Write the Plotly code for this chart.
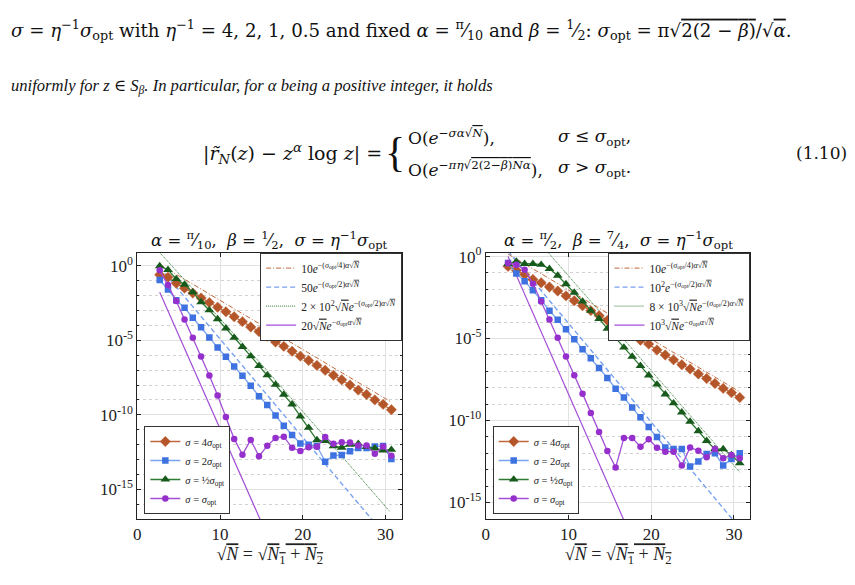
import numpy as np
import plotly.graph_objects as go

# ---------------- data (exponents of 10) ----------------
sqrtN = [2.7, 3.7, 4.7, 5.7, 6.7, 7.7, 8.7, 9.7, 10.7, 11.7, 12.7, 13.7, 14.7, 15.7,
         16.7, 17.7, 18.7, 19.7, 20.7, 21.7, 22.7, 23.7, 24.7, 25.7, 26.7, 27.7,
         28.7, 29.7, 30.7]

# left panel: alpha = pi/10, beta = 1/2
L_s4 = [-0.59, -0.76, -1.16, -1.49, -1.82, -2.15, -2.46, -2.77, -3.08, -3.41, -3.74,
        -4.10, -4.41, -4.72, -5.11, -5.40, -5.73, -6.06, -6.35, -6.68, -7.01, -7.34,
        -7.65, -8.00, -8.34, -8.64, -9.00, -9.30, -9.66]
L_s2 = [-0.94, -1.58, -2.31, -2.81, -3.48, -4.12, -4.80, -5.48, -6.10, -6.75, -7.38,
        -8.05, -8.75, -9.35, -10.05, -10.74, -11.36, -11.93, -12.02, -12.10, -13.15,
        -12.74, -12.70, -12.46, -12.24, -12.24, -12.13, -12.10, -12.98]
L_shalf = [0.00, -0.26, -0.87, -1.25, -1.76, -2.42, -2.97, -3.57, -4.19, -4.82, -5.43,
           -6.06, -6.72, -7.34, -7.98, -8.64, -9.30, -10.10, -10.87, -11.70, -11.75,
           -12.10, -12.20, -12.00, -11.95, -12.15, -12.25, -12.40, -12.35]
L_s1 = [-0.28, -1.27, -2.35, -3.59, -4.83, -6.08, -7.36, -8.71, -10.15, -11.62, -12.68,
        -11.69, -12.79, -12.09, -11.56, -11.47, -12.22, -12.44, -12.19, -12.15, -11.50,
        -11.95, -11.85, -11.87, -12.07, -12.07, -12.62, -12.13, -12.75]

# left reference lines (x, exponent)
L_ref4_x, L_ref4_y = [2.7, 30.7], [0.10, -9.15]
L_ref2_x, L_ref2_y = [2.7, 30.7], [-0.09, -18.60]
L_refh_x, L_refh_y = [2.7, 15.0, 26.3, 30.5], [0.90, -6.60, -13.80, -16.50]
L_ref1_x, L_ref1_y = [2.7, 16.0], [-1.76, -18.50]

# right panel: alpha = pi/2, beta = 7/4
R_s4 = [-0.60, -0.84, -1.10, -1.40, -1.60, -1.86, -2.10, -2.40, -2.70, -3.00, -3.30,
        -3.60, -3.90, -4.24, -4.50, -4.80, -5.10, -5.34, -5.70, -6.00, -6.30, -6.60,
        -6.86, -7.16, -7.44, -7.74, -8.04, -8.30, -8.60]
R_s2 = [-0.40, -1.04, -1.50, -2.06, -2.66, -3.30, -3.86, -4.43, -5.04, -5.65, -6.20,
        -6.80, -7.40, -8.06, -8.60, -9.20, -9.80, -10.40, -11.00, -11.64, -11.74,
        -11.74, -12.80, -12.50, -12.04, -12.00, -12.74, -12.34, -12.00]
R_shalf = [-0.44, -0.30, -0.44, -0.44, -0.50, -0.75, -1.16, -1.68, -2.20, -2.74, -3.30,
           -3.80, -4.40, -5.00, -5.54, -6.10, -6.66, -7.24, -7.80, -8.40, -8.94, -9.50,
           -10.06, -10.64, -11.24, -11.74, -11.74, -12.10, -12.60]
R_s1 = [-0.40, -0.50, -0.80, -1.66, -2.74, -3.84, -4.95, -6.10, -7.24, -8.36, -9.54,
        -10.70, -11.86, -12.86, -11.06, -11.06, -11.60, -11.14, -11.66, -11.90, -11.90,
        -12.74, -11.64, -11.84, -12.24, -11.74, -12.30, -12.10, -12.30]

R_ref4_x, R_ref4_y = [2.7, 30.7], [0.15, -8.25]
R_ref2_x, R_ref2_y = [2.7, 30.7], [0.33, -16.55]
R_refh_x, R_refh_y = [7.0, 30.7], [0.56, -13.15]
R_ref1_x, R_ref1_y = [2.7, 17.5], [0.00, -17.00]

xticks = [0, 10, 20, 30]
ytick_exp = [0, -5, -10, -15]
ytick_text = ["10<sup>0</sup>", "10<sup>-5</sup>", "10<sup>-10</sup>", "10<sup>-15</sup>"]

# ---------------- style ----------------
W, H = 855, 585
BROWN, BROWN_L = "#B4562A", "#C0683C"
BLUE, BLUE_L = "#3D72E0", "#79A3F0"
GREEN, GREEN_L = "#175A1B", "#2F7A33"
PURPLE, PURPLE_L = "#9630CC", "#A34ED6"
SERIF = "'Liberation Serif', 'Times New Roman', 'DejaVu Serif', serif"
PAGE = "'DejaVu Serif', serif"

def p(v):
    return [10.0 ** e for e in v]

def ol(s):
    return "<span style='text-decoration:overline'>" + s + "</span>"

fig = go.Figure()

def add_panel(xa, ya, s4, s2, sh, s1, refs, ref_names, lg_ref, lg_mk):
    (r4x, r4y), (r2x, r2y), (rhx, rhy), (r1x, r1y) = refs
    fig.add_trace(go.Scatter(x=r4x, y=p(r4y), mode="lines", xaxis=xa, yaxis=ya,
                             line=dict(color=BROWN_L, width=1, dash="5px,2px,1px,2px"),
                             name=ref_names[0], legend=lg_ref))
    fig.add_trace(go.Scatter(x=r2x, y=p(r2y), mode="lines", xaxis=xa, yaxis=ya,
                             line=dict(color=BLUE_L, width=1.4, dash="5px,3px"),
                             name=ref_names[1], legend=lg_ref))
    fig.add_trace(go.Scatter(x=rhx, y=p(rhy), mode="lines", xaxis=xa, yaxis=ya,
                             line=dict(color=GREEN_L, width=1, dash="1px,1px"),
                             name=ref_names[2], legend=lg_ref))
    fig.add_trace(go.Scatter(x=r1x, y=p(r1y), mode="lines", xaxis=xa, yaxis=ya,
                             line=dict(color=PURPLE_L, width=1.2),
                             name=ref_names[3], legend=lg_ref))
    fig.add_trace(go.Scatter(x=sqrtN, y=p(s4), mode="lines+markers", xaxis=xa, yaxis=ya,
                             line=dict(color=BROWN_L, width=1.3),
                             marker=dict(symbol="diamond", size=8, color=BROWN,
                                         line=dict(color=BROWN_L, width=0.5)),
                             name="<i>σ</i> = 4<i>σ</i><sub>opt</sub>", legend=lg_mk))
    fig.add_trace(go.Scatter(x=sqrtN, y=p(s2), mode="lines+markers", xaxis=xa, yaxis=ya,
                             line=dict(color=BLUE_L, width=1.3),
                             marker=dict(symbol="square", size=6.5, color=BLUE),
                             name="<i>σ</i> = 2<i>σ</i><sub>opt</sub>", legend=lg_mk))
    fig.add_trace(go.Scatter(x=sqrtN, y=p(sh), mode="lines+markers", xaxis=xa, yaxis=ya,
                             line=dict(color=GREEN_L, width=1.3),
                             marker=dict(symbol="triangle-up", size=8.5, color=GREEN),
                             name="<i>σ</i> = ½<i>σ</i><sub>opt</sub>", legend=lg_mk))
    fig.add_trace(go.Scatter(x=sqrtN, y=p(s1), mode="lines+markers", xaxis=xa, yaxis=ya,
                             line=dict(color=PURPLE_L, width=1.3),
                             marker=dict(symbol="circle", size=6.5, color=PURPLE),
                             name="<i>σ</i> = <i>σ</i><sub>opt</sub>", legend=lg_mk))

sig = "<i>σ</i><sub>opt</sub>"
L_names = ["10<i>e</i><sup>−(" + sig + "/4)<i>α</i>√" + ol("<i>N</i>") + "</sup>",
           "50<i>e</i><sup>−(" + sig + "/2)<i>α</i>√" + ol("<i>N</i>") + "</sup>",
           "2 × 10<sup>2</sup>√" + ol("<i>N</i>") + "<i>e</i><sup>−(" + sig + "/2)<i>α</i>√" + ol("<i>N</i>") + "</sup>",
           "20√" + ol("<i>N</i>") + "<i>e</i><sup>−" + sig + "<i>α</i>√" + ol("<i>N</i>") + "</sup>"]
R_names = ["10<i>e</i><sup>−(" + sig + "/4)<i>α</i>√" + ol("<i>N</i>") + "</sup>",
           "10<sup>2</sup><i>e</i><sup>−(" + sig + "/2)<i>α</i>√" + ol("<i>N</i>") + "</sup>",
           "8 × 10<sup>3</sup>√" + ol("<i>N</i>") + "<i>e</i><sup>−(" + sig + "/2)<i>α</i>√" + ol("<i>N</i>") + "</sup>",
           "10<sup>3</sup>√" + ol("<i>N</i>") + "<i>e</i><sup>−" + sig + "<i>α</i>√" + ol("<i>N</i>") + "</sup>"]

add_panel("x", "y", L_s4, L_s2, L_shalf, L_s1,
          [(L_ref4_x, L_ref4_y), (L_ref2_x, L_ref2_y), (L_refh_x, L_refh_y), (L_ref1_x, L_ref1_y)],
          L_names, "legend", "legend2")
add_panel("x2", "y2", R_s4, R_s2, R_shalf, R_s1,
          [(R_ref4_x, R_ref4_y), (R_ref2_x, R_ref2_y), (R_refh_x, R_refh_y), (R_ref1_x, R_ref1_y)],
          R_names, "legend3", "legend4")

def xaxis(dom, anchor):
    return dict(domain=dom, anchor=anchor, range=[0, 32], tickvals=xticks,
                showgrid=True, gridcolor="#e2e2e2", gridwidth=1, zeroline=False,
                showline=True, linecolor="#222", linewidth=1, mirror="ticks",
                ticks="inside", ticklen=4, tickcolor="#222",
                tickfont=dict(family=SERIF, size=17, color="#222"),
                title=dict(text="√" + ol("<i>N</i>") + " = √" + ol("<i>N</i><sub>1</sub> + <i>N</i><sub>2</sub>"),
                           font=dict(family=SERIF, size=18, color="#222"), standoff=3))

def yaxis(dom, anchor, rng):
    return dict(domain=dom, anchor=anchor, type="log", range=rng,
                tickvals=p(ytick_exp), ticktext=ytick_text,
                showgrid=True, gridcolor="#e2e2e2", gridwidth=1, zeroline=False,
                showline=True, linecolor="#222", linewidth=1, mirror="ticks",
                ticks="inside", ticklen=4, tickcolor="#222",
                tickfont=dict(family=SERIF, size=17, color="#222"),
                minor=dict(tickvals=p(list(range(-17, 1))), showgrid=True,
                           griddash="dot", gridcolor="#d2d2d2", ticks="inside",
                           ticklen=2, tickcolor="#222"))

ydom = [1 - 518 / H, 1 - 248 / H]
lg_common = dict(bgcolor="white", bordercolor="#333", borderwidth=1,
                 itemwidth=30, tracegroupgap=0)
lg_ref_font = dict(family=SERIF, size=11.5, color="#222")
lg_mk_font = dict(family=SERIF, size=10.5, color="#222")

fig.update_layout(
    width=W, height=H, margin=dict(l=0, r=0, t=0, b=0),
    paper_bgcolor="white", plot_bgcolor="white",
    xaxis=xaxis([134 / W, 400 / W], "y"),
    yaxis=yaxis(ydom, "x", [-17, 0.9]),
    xaxis2=xaxis([484 / W, 750 / W], "y2"),
    yaxis2=yaxis(ydom, "x2", [-16, 0.24]),
    legend=dict(x=400 / W, y=1 - 248 / H, xanchor="right", yanchor="top",
                font=lg_ref_font, **lg_common),
    legend2=dict(x=141 / W, y=1 - 513 / H, xanchor="left", yanchor="bottom",
                 font=lg_mk_font, **lg_common),
    legend3=dict(x=750 / W, y=1 - 248 / H, xanchor="right", yanchor="top",
                 font=lg_ref_font, **lg_common),
    legend4=dict(x=491 / W, y=1 - 513 / H, xanchor="left", yanchor="bottom",
                 font=lg_mk_font, **lg_common),
    showlegend=True,
)

def ann(text, px, py, size, xanchor="left", yanchor="middle", color="#111", family=SERIF):
    fig.add_annotation(text=text, x=px / W, y=1 - py / H, xref="paper", yref="paper",
                       xanchor=xanchor, yanchor=yanchor, showarrow=False,
                       font=dict(family=family, size=size, color=color))

# subplot titles
ann("<i>α</i> = <sup>π</sup>⁄<sub>10</sub>,  <i>β</i> = <sup>1</sup>⁄<sub>2</sub>,  <i>σ</i> = <i>η</i><sup>−1</sup><i>σ</i><sub>opt</sub>",
    267, 235, 16.5, xanchor="center", family=PAGE)
ann("<i>α</i> = <sup>π</sup>⁄<sub>2</sub>,  <i>β</i> = <sup>7</sup>⁄<sub>4</sub>,  <i>σ</i> = <i>η</i><sup>−1</sup><i>σ</i><sub>opt</sub>",
    617, 235, 16.5, xanchor="center", family=PAGE)

# page text
ann("<i>σ</i> = <i>η</i><sup>−1</sup><i>σ</i><sub>opt</sub> with <i>η</i><sup>−1</sup> = 4, 2, 1, 0.5 and fixed <i>α</i> = <sup>π</sup>⁄<sub>10</sub> and <i>β</i> = <sup>1</sup>⁄<sub>2</sub>: <i>σ</i><sub>opt</sub> = π√"
    + ol("2(2 − <i>β</i>)") + "/√" + ol("<i>α</i>") + ".", 5, 22, 18.2, family=PAGE)
ann("<i>uniformly for z ∈ S<sub>β</sub>. In particular, for α being a positive integer, it holds</i>",
    5, 80, 16.6, family=SERIF)
ann("|<i>r̃</i><sub><i>N</i></sub>(<i>z</i>) − <i>z</i><sup><i>α</i></sup> log <i>z</i>| =", 382, 148, 19,
    xanchor="right", family=PAGE)
ann("{", 381, 146, 42, xanchor="left")
ann("O(<i>e</i><sup>−<i>σα</i>√" + ol("<i>N</i>") + "</sup>),", 404, 131, 17, family=PAGE)
ann("O(<i>e</i><sup>−<i>πη</i>√" + ol("2(2−<i>β</i>)<i>Nα</i>") + "</sup>),", 404, 163, 17, family=PAGE)
ann("<i>σ</i> ≤ <i>σ</i><sub>opt</sub>,", 555, 131, 17, family=PAGE)
ann("<i>σ</i> > <i>σ</i><sub>opt</sub>.", 555, 163, 17, family=PAGE)
ann("(1.10)", 849, 147, 17, xanchor="right", family=PAGE)

fig.write_html("out.html")
